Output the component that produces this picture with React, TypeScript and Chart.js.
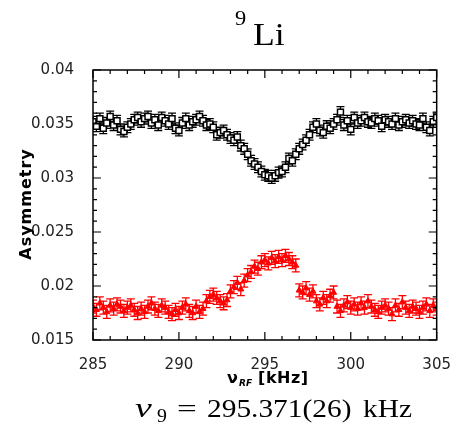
import React, { useEffect, useRef } from "react";
import { Chart, registerables } from "chart.js";

Chart.register(...registerables);

const FREQ = [
  285.0, 285.2, 285.4, 285.6, 285.8, 286.0, 286.2, 286.4, 286.6, 286.8, 287.0,
  287.2, 287.4, 287.6, 287.8, 288.0, 288.2, 288.4, 288.6, 288.8, 289.0,
  289.2, 289.4, 289.6, 289.8, 290.0, 290.2, 290.4, 290.6, 290.8, 291.0,
  291.2, 291.4, 291.6, 291.8, 292.0, 292.2, 292.4, 292.6, 292.8, 293.0,
  293.2, 293.4, 293.6, 293.8, 294.0, 294.2, 294.4, 294.6, 294.8, 295.0,
  295.2, 295.4, 295.6, 295.8, 296.0, 296.2, 296.4, 296.6, 296.8, 297.0,
  297.2, 297.4, 297.6, 297.8, 298.0, 298.2, 298.4, 298.6, 298.8, 299.0,
  299.2, 299.4, 299.6, 299.8, 300.0, 300.2, 300.4, 300.6, 300.8, 301.0,
  301.2, 301.4, 301.6, 301.8, 302.0, 302.2, 302.4, 302.6, 302.8, 303.0,
  303.2, 303.4, 303.6, 303.8, 304.0, 304.2, 304.4, 304.6, 304.8, 305.0,
];

const ASYM_BLACK = [
  0.0352, 0.0348, 0.0355, 0.0346, 0.0351, 0.0357, 0.0349, 0.0353, 0.0345, 0.0343, 0.0347,
  0.0350, 0.0354, 0.0356, 0.0352, 0.0355, 0.0357, 0.0351, 0.0354, 0.0349, 0.0356,
  0.0353, 0.0350, 0.0355, 0.0346, 0.0344, 0.0351, 0.0355, 0.0349, 0.0352, 0.0354,
  0.0357, 0.0353, 0.0349, 0.0350, 0.0347, 0.0340, 0.0342, 0.0344, 0.0340, 0.0337,
  0.0335, 0.0338, 0.0330, 0.0327, 0.0322, 0.0316, 0.0313, 0.0310, 0.0306, 0.0303,
  0.0302, 0.0300, 0.0302, 0.0305, 0.0306, 0.0310, 0.0318, 0.0316, 0.0322, 0.0327,
  0.0331, 0.0335, 0.0340, 0.0347, 0.0350, 0.0344, 0.0342, 0.0348, 0.0346, 0.0350,
  0.0354, 0.0361, 0.0349, 0.0353, 0.0345, 0.0356, 0.0351, 0.0353, 0.0356, 0.0352,
  0.0351, 0.0355, 0.0353, 0.0348, 0.0354, 0.0352, 0.0350, 0.0355, 0.0349, 0.0352,
  0.0354, 0.0351, 0.0353, 0.0350, 0.0349, 0.0355, 0.0347, 0.0344, 0.0352, 0.0356,
];

const ASYM_RED = [
  0.0181, 0.0178, 0.0184, 0.0180, 0.0176, 0.0182, 0.0179, 0.0183, 0.0181, 0.0177, 0.0180,
  0.0182, 0.0178, 0.0175, 0.0179, 0.0176, 0.0181, 0.0184, 0.0179, 0.0177, 0.0182,
  0.0180, 0.0176, 0.0174, 0.0178, 0.0175, 0.0180, 0.0183, 0.0177, 0.0175, 0.0181,
  0.0176, 0.0179, 0.0186, 0.0190, 0.0192, 0.0189, 0.0186, 0.0184, 0.0187, 0.0195,
  0.0199, 0.0203, 0.0197, 0.0205, 0.0210, 0.0213, 0.0218, 0.0216, 0.0222, 0.0224,
  0.0221, 0.0226, 0.0223, 0.0227, 0.0224, 0.0228, 0.0225, 0.0222, 0.0219, 0.0196,
  0.0194, 0.0198, 0.0192, 0.0195, 0.0186, 0.0183, 0.0189, 0.0186, 0.0191, 0.0194,
  0.0181, 0.0177, 0.0182, 0.0185, 0.0180, 0.0183, 0.0179, 0.0184, 0.0180, 0.0186,
  0.0181, 0.0178, 0.0176, 0.0180, 0.0182, 0.0179, 0.0174, 0.0182, 0.0178, 0.0185,
  0.0180, 0.0177, 0.0181, 0.0179, 0.0176, 0.0180, 0.0183, 0.0177, 0.0182, 0.0179,
];

const ERR_BLACK = 0.0005;
const ERR_RED = 0.0006;

const X_TICKS = [285, 290, 295, 300, 305];
const Y_TICKS = [0.015, 0.02, 0.025, 0.03, 0.035, 0.04];
const Y_LABELS = ["0.015", "0.02", "0.025", "0.03", "0.035", "0.04"];

const TITLE_SUP = "9";
const TITLE_MAIN = "Li";
const Y_TITLE = "Asymmetry";
const X_TITLE_MAIN = "ν";
const X_TITLE_SUB = "RF";
const X_TITLE_REST = " [kHz]";
const RESULT_SYM = "ν";
const RESULT_SUB = "9";
const RESULT_EQ = "=";
const RESULT_VAL = "295.371(26)";
const RESULT_UNIT = "kHz";

const errorBarPlugin = {
  id: "errorBars",
  beforeDatasetsDraw(chart: any) {
    const { ctx, chartArea } = chart;
    const xs = chart.scales.x;
    const ys = chart.scales.y;
    ctx.save();
    ctx.beginPath();
    ctx.rect(chartArea.left, chartArea.top, chartArea.right - chartArea.left, chartArea.bottom - chartArea.top);
    ctx.clip();
    chart.data.datasets.forEach((ds: any) => {
      const err = ds.errValue;
      ctx.strokeStyle = ds.borderColor;
      ctx.lineWidth = 1.3;
      ds.data.forEach((p: any) => {
        const x = xs.getPixelForValue(p.x);
        const y1 = ys.getPixelForValue(p.y - err);
        const y2 = ys.getPixelForValue(p.y + err);
        ctx.beginPath();
        ctx.moveTo(x, y1);
        ctx.lineTo(x, y2);
        ctx.moveTo(x - 4, y1);
        ctx.lineTo(x + 4, y1);
        ctx.moveTo(x - 4, y2);
        ctx.lineTo(x + 4, y2);
        ctx.stroke();
      });
    });
    ctx.restore();
  },
};

function stretchedText(ctx: any, text: string, x: number, y: number, font: string, sx: number) {
  ctx.save();
  ctx.font = font;
  ctx.translate(x, y);
  ctx.scale(sx, 1);
  ctx.fillText(text, 0, 0);
  ctx.restore();
}

const frameAndTextPlugin = {
  id: "frameText",
  afterDraw(chart: any) {
    const { ctx, chartArea } = chart;
    const xs = chart.scales.x;
    const ys = chart.scales.y;
    const { left, right, top, bottom } = chartArea;
    ctx.save();
    ctx.strokeStyle = "#000";
    ctx.lineWidth = 1.5;
    ctx.strokeRect(left, top, right - left, bottom - top);
    ctx.lineWidth = 1.2;
    ctx.beginPath();
    for (let v = 285; v <= 305; v += 1) {
      const x = xs.getPixelForValue(v);
      const len = v % 5 === 0 ? 8 : 4;
      ctx.moveTo(x, bottom);
      ctx.lineTo(x, bottom - len);
      ctx.moveTo(x, top);
      ctx.lineTo(x, top + len);
    }
    for (let i = 15; i <= 40; i += 1) {
      const y = ys.getPixelForValue(i / 1000);
      const len = i % 5 === 0 ? 8 : 4;
      ctx.moveTo(left, y);
      ctx.lineTo(left + len, y);
      ctx.moveTo(right, y);
      ctx.lineTo(right - len, y);
    }
    ctx.stroke();

    ctx.fillStyle = "#000";
    ctx.textBaseline = "alphabetic";
    ctx.textAlign = "left";
    // title
    stretchedText(ctx, TITLE_SUP, 235, 25, "20px 'Liberation Serif'", 1.12);
    stretchedText(ctx, TITLE_MAIN, 253, 45, "31px 'Liberation Serif'", 1.15);

    // y title
    ctx.save();
    ctx.translate(31, 204);
    ctx.rotate(-Math.PI / 2);
    ctx.font = "bold 16px 'DejaVu Sans'";
    (ctx as any).letterSpacing = "1px";
    ctx.textAlign = "center";
    ctx.fillText(Y_TITLE, 0, 0);
    ctx.restore();

    // x title
    ctx.font = "bold 16px 'DejaVu Sans'";
    ctx.fillText(X_TITLE_MAIN, 227, 383);
    ctx.font = "bold italic 9px 'DejaVu Sans'";
    ctx.fillText(X_TITLE_SUB, 239, 386);
    ctx.save();
    ctx.font = "bold 16px 'DejaVu Sans'";
    (ctx as any).letterSpacing = "0.5px";
    ctx.fillText(X_TITLE_REST, 252, 383);
    ctx.restore();

    // result
    stretchedText(ctx, RESULT_SYM, 135, 417, "italic 28px 'Liberation Serif'", 1.35);
    stretchedText(ctx, RESULT_SUB, 157, 422, "18px 'Liberation Serif'", 1.1);
    stretchedText(ctx, RESULT_EQ, 177, 417, "26px 'Liberation Serif'", 1.35);
    stretchedText(ctx, RESULT_VAL, 207, 417, "26px 'Liberation Serif'", 1.13);
    stretchedText(ctx, RESULT_UNIT, 363, 417, "26px 'Liberation Serif'", 1.13);
    ctx.restore();
  },
};

export default function App() {
  const ref = useRef<HTMLCanvasElement | null>(null);
  useEffect(() => {
    if (!ref.current) return;
    const black = FREQ.map((x, i) => ({ x, y: ASYM_BLACK[i] }));
    const red = FREQ.map((x, i) => ({ x, y: ASYM_RED[i] }));
    const chart = new Chart(ref.current, {
      type: "scatter",
      data: {
        datasets: [
          {
            label: "black",
            data: black,
            borderColor: "#000000",
            backgroundColor: "#ffffff",
            pointStyle: "rect",
            pointRadius: 4.2,
            borderWidth: 1.5,
            errValue: ERR_BLACK,
          } as any,
          {
            label: "red",
            data: red,
            borderColor: "#ff0000",
            backgroundColor: "#ff0000",
            pointStyle: "triangle",
            pointRadius: 3.5,
            borderWidth: 1,
            errValue: ERR_RED,
          } as any,
        ],
      },
      options: {
        animation: false,
        responsive: false,
        devicePixelRatio: 1,
        layout: { padding: { left: 0, right: 11, top: 70, bottom: 47 } },
        plugins: {
          legend: { display: false },
          tooltip: { enabled: false },
          title: { display: false },
        },
        scales: {
          x: {
            type: "linear",
            min: 285,
            max: 305,
            grid: { display: false },
            border: { display: false },
            afterBuildTicks: (s: any) => {
              s.ticks = X_TICKS.map((v) => ({ value: v }));
            },
            afterFit: (s: any) => {
              s.height = 40;
            },
            ticks: {
              autoSkip: false,
              maxRotation: 0,
              padding: 8,
              color: "#222",
              font: { family: "'DejaVu Sans'", size: 15 },
              callback: (v: any) => String(v),
            },
          },
          y: {
            type: "linear",
            min: 0.015,
            max: 0.04,
            grid: { display: false },
            border: { display: false },
            afterBuildTicks: (s: any) => {
              s.ticks = Y_TICKS.map((v) => ({ value: v }));
            },
            afterFit: (s: any) => {
              s.width = 93;
            },
            ticks: {
              autoSkip: false,
              padding: 11,
              color: "#222",
              font: { family: "'DejaVu Sans'", size: 15 },
              callback: (v: any) => {
                const idx = Y_TICKS.findIndex((t) => Math.abs(t - v) < 1e-9);
                return idx >= 0 ? Y_LABELS[idx] : "";
              },
            },
          },
        },
      } as any,
      plugins: [errorBarPlugin, frameAndTextPlugin],
    });
    return () => chart.destroy();
  }, []);
  return (
    <div style={{ position: "fixed", left: 0, top: 0, width: 459, height: 427, background: "#fff" }}>
      <canvas ref={ref} width={459} height={427} style={{ width: 459, height: 427 }} />
    </div>
  );
}
